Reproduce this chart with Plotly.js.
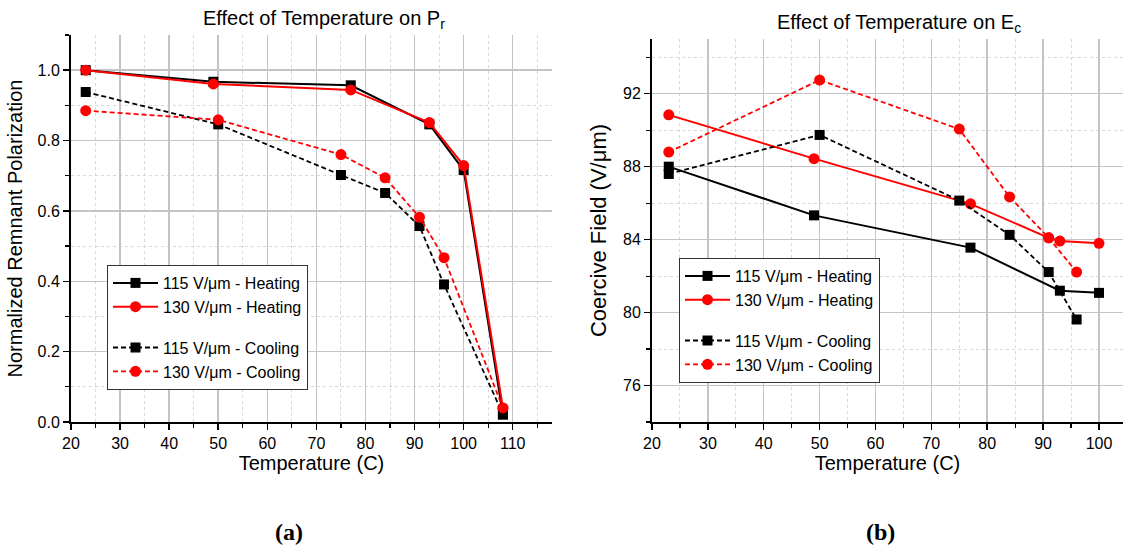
<!DOCTYPE html>
<html>
<head>
<meta charset="utf-8">
<script src="https://cdn.plot.ly/plotly-3.0.1.min.js"></script>
<style>html,body{margin:0;padding:0;background:#fff;}#chart{width:1123px;height:550px;}</style>
</head>
<body>
<div id="chart"></div>
<script>
// ---- (a) Remnant polarization ----
const prHeatT = [23, 49, 77, 93, 100, 108];
const pr115Heat = [1.0, 0.967, 0.957, 0.846, 0.716, 0.021];
const pr130Heat = [1.0, 0.961, 0.944, 0.851, 0.729, 0.040];
const prCoolT = [23, 50, 75, 84, 91, 96, 108];
const pr115Cool = [0.938, 0.846, 0.702, 0.651, 0.557, 0.391, 0.022];
const pr130Cool = [0.885, 0.859, 0.760, 0.694, 0.582, 0.467, 0.040];

// ---- (b) Coercive field ----
const ec115HeatT = [23, 49, 77, 93, 100];
const ec115Heat = [88.0, 85.33, 83.56, 81.2, 81.08];
const ec130HeatT = [23, 49, 77, 91, 93, 100];
const ec130Heat = [90.84, 88.44, 85.96, 84.1, 83.92, 83.8];
const ecCoolT = [23, 50, 75, 84, 91, 96];
const ec115Cool = [87.6, 89.74, 86.14, 84.26, 82.22, 79.62];
const ec130Cool = [88.8, 92.75, 90.06, 86.34, 84.1, 82.22];

const seriesNames = ['115 V/μm - Heating', '130 V/μm - Heating', '115 V/μm - Cooling', '130 V/μm - Cooling'];

const BLACK = '#000000', RED = '#ff0000';
const DASH = '5px,3px';

function tr(x, y, name, color, symbol, dashed, xa, ya, leg, grp) {
  return {
    x: x, y: y, name: name, type: 'scatter', mode: 'lines+markers',
    xaxis: xa, yaxis: ya, legend: leg, legendgroup: grp,
    line: {color: color, width: dashed ? 1.8 : 2, dash: dashed ? DASH : 'solid'},
    marker: {color: color, symbol: symbol, size: symbol === 'square' ? 10 : 11, line: {width: 0}}
  };
}

const data = [
  tr(prHeatT, pr115Heat, seriesNames[0], BLACK, 'square', false, 'x', 'y', 'legend', 'h'),
  tr(prHeatT, pr130Heat, seriesNames[1], RED, 'circle', false, 'x', 'y', 'legend', 'h'),
  tr(prCoolT, pr115Cool, seriesNames[2], BLACK, 'square', true, 'x', 'y', 'legend', 'c'),
  tr(prCoolT, pr130Cool, seriesNames[3], RED, 'circle', true, 'x', 'y', 'legend', 'c'),
  tr(ec115HeatT, ec115Heat, seriesNames[0], BLACK, 'square', false, 'x2', 'y2', 'legend2', 'h2'),
  tr(ec130HeatT, ec130Heat, seriesNames[1], RED, 'circle', false, 'x2', 'y2', 'legend2', 'h2'),
  tr(ecCoolT, ec115Cool, seriesNames[2], BLACK, 'square', true, 'x2', 'y2', 'legend2', 'c2'),
  tr(ecCoolT, ec130Cool, seriesNames[3], RED, 'circle', true, 'x2', 'y2', 'legend2', 'c2')
];

const FONT = 'Liberation Sans, Arial, sans-serif';
function axis(extra) {
  return Object.assign({
    showline: true, linecolor: '#000', linewidth: 2, mirror: false, zeroline: false,
    ticks: 'outside', ticklen: 6, tickwidth: 1.5, tickcolor: '#000',
    showgrid: true, gridcolor: '#c4c4c4', gridwidth: 1.5,
    tickfont: {family: FONT, size: 16, color: '#000'},
    fixedrange: true
  }, extra);
}
function minor(dt) {
  return {dtick: dt, ticks: 'outside', ticklen: 4, tickwidth: 1.2, tickcolor: '#000',
          showgrid: true, gridcolor: '#d8d8d8', gridwidth: 1, griddash: 'dot'};
}
const titleFont = {family: FONT, size: 20, color: '#000'};
const legendBase = {xanchor: 'left', yanchor: 'top', bgcolor: '#fff', bordercolor: '#333', borderwidth: 1,
  font: {family: FONT, size: 16, color: '#000'}, traceorder: 'grouped', tracegroupgap: 17, itemwidth: 45};

const layout = {
  width: 1123, height: 550,
  margin: {l: 0, r: 0, t: 0, b: 0},
  paper_bgcolor: '#fff', plot_bgcolor: '#fff',
  showlegend: true,
  xaxis: axis({domain: [71/1123, 552/1123], range: [20, 118], dtick: 10, tick0: 0,
    minor: minor(5), anchor: 'y',
    title: {text: 'Temperature (C)', font: titleFont, standoff: 0}}),
  yaxis: axis({domain: [128/550, 515/550], range: [0, 1.1], dtick: 0.2, tick0: 0, tickformat: '.1f',
    minor: minor(0.1), anchor: 'x',
    title: {text: 'Normalized Remnant Polarization', font: titleFont, standoff: 10}}),
  xaxis2: axis({domain: [652/1123, 1], range: [20, 104.3], dtick: 10, tick0: 0,
    minor: minor(5), anchor: 'y2',
    title: {text: 'Temperature (C)', font: titleFont, standoff: 0}}),
  yaxis2: axis({domain: [128/550, 511/550], range: [74, 95], dtick: 4, tick0: 0,
    minor: minor(2), anchor: 'x2',
    title: {text: 'Coercive Field (V/μm)', font: {family: FONT, size: 22, color: '#000'}, standoff: 10}}),
  legend: Object.assign({x: 107/1123, y: (550-265)/550}, legendBase),
  legend2: Object.assign({x: 679/1123, y: (550-258)/550}, legendBase),
  annotations: [
    {text: 'Effect of Temperature on P<sub>r</sub>', xref: 'paper', yref: 'paper',
     x: 324/1123, y: (550-19)/550, xanchor: 'center', yanchor: 'middle', showarrow: false,
     font: {family: FONT, size: 20, color: '#000'}},
    {text: 'Effect of Temperature on E<sub>c</sub>', xref: 'paper', yref: 'paper',
     x: 899/1123, y: (550-23)/550, xanchor: 'center', yanchor: 'middle', showarrow: false,
     font: {family: FONT, size: 20, color: '#000'}},
    {text: '<b>(a)</b>', xref: 'paper', yref: 'paper', x: 289/1123, y: (550-532)/550,
     xanchor: 'center', yanchor: 'middle', showarrow: false,
     font: {family: 'Liberation Serif, Times New Roman, serif', size: 24, color: '#000'}},
    {text: '<b>(b)</b>', xref: 'paper', yref: 'paper', x: 880/1123, y: (550-532)/550,
     xanchor: 'center', yanchor: 'middle', showarrow: false,
     font: {family: 'Liberation Serif, Times New Roman, serif', size: 24, color: '#000'}}
  ]
};

Plotly.newPlot('chart', data, layout, {displayModeBar: false, staticPlot: true});
</script>
</body>
</html>
